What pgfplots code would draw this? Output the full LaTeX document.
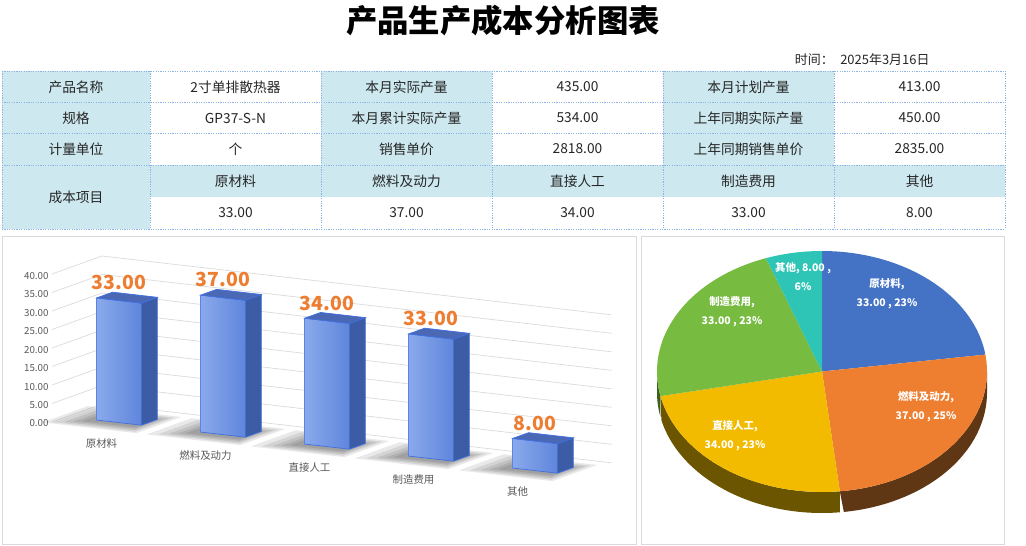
\documentclass[border=0pt]{standalone}
\usepackage{pgfplots}
\pgfplotsset{compat=1.18}
\usepackage{fontspec}
\setmainfont{Noto Sans CJK SC}
\pgfplotsset{/pgf/number format/assume math mode=true}
\definecolor{cellblue}{HTML}{CDE8EF}
\definecolor{gridblue}{HTML}{8DB4E2}
\definecolor{txt}{HTML}{262626}
\definecolor{labelgray}{HTML}{595959}
\definecolor{panelgray}{HTML}{D9D9D9}
\definecolor{barfront}{HTML}{5F86DC}
\definecolor{barfrontL}{HTML}{8AA9EC}
\definecolor{barside}{HTML}{3D5CA6}
\definecolor{bartop}{HTML}{4B68B4}
\definecolor{baredge}{HTML}{3F6FE0}
\definecolor{lblorange}{HTML}{ED7D31}
\definecolor{pblue}{HTML}{4472C4}
\definecolor{porange}{HTML}{EE7F30}
\definecolor{pyellow}{HTML}{F2BB00}
\definecolor{pgreen}{HTML}{77BB41}
\definecolor{pteal}{HTML}{2EC4B6}
\definecolor{sorange}{HTML}{5F3714}
\definecolor{syellow}{HTML}{6B5500}
\definecolor{sgreen}{HTML}{3C5E20}

% one 3D bar: #1 category position, #2 value
\newcommand\costbar[2]{%
 \pgfmathsetmacro\xl{#1-0.215}%
 \pgfmathsetmacro\xr{#1+0.215}%
 \edef\next{%
  \noexpand\addplot3[draw=baredge, line width=0.7bp, left color=barfrontL, right color=barfront] coordinates {(\xl,0.3,0) (\xr,0.3,0) (\xr,0.3,#2) (\xl,0.3,#2)} -- cycle;
  \noexpand\addplot3[draw=baredge, line width=0.7bp, fill=barside] coordinates {(\xr,0.3,0) (\xr,0.62,0) (\xr,0.62,#2) (\xr,0.3,#2)} -- cycle;
  \noexpand\addplot3[draw=baredge, line width=0.7bp, fill=bartop] coordinates {(\xl,0.3,#2) (\xr,0.3,#2) (\xr,0.62,#2) (\xl,0.62,#2)} -- cycle;
 }\next}
% soft shadow on the floor under a bar: nested translucent layers
\newcommand\shadowlayer[5]{%
 \pgfmathsetmacro\sa{#1-#2}\pgfmathsetmacro\sb{#1+#3}%
 \edef\next{%
  \noexpand\addplot3[fill=black, opacity=0.085, draw=none] coordinates {(\sa,#4,0) (\sb,#4,0) (\sb,#5,0) (\sa,#5,0)} -- cycle;
 }\next}
\newcommand\barshadow[1]{%
 \shadowlayer{#1}{0.56}{0.34}{-0.06}{0.84}%
 \shadowlayer{#1}{0.48}{0.30}{0.00}{0.78}%
 \shadowlayer{#1}{0.41}{0.27}{0.06}{0.72}%
 \shadowlayer{#1}{0.35}{0.24}{0.12}{0.66}%
 \shadowlayer{#1}{0.30}{0.22}{0.18}{0.62}%
}

\begin{document}
\begin{tikzpicture}
\path[use as bounding box, fill=white] (0,0) rectangle (1026bp,-546bp);

\begin{scope}[x=1bp, y=-1bp]
 % title and date
 \node[font=\bfseries\fontsize{31.5}{32}\selectfont, text=black] at (503,21) {产品生产成本分析图表};
 \node[anchor=east, font=\fontsize{13}{13}\selectfont, text=txt] at (933,60) {时间：\hspace{0.5em}2025年3月16日};
 % shaded cells
 \fill[cellblue] (2,71) rectangle (150,229);
 \fill[cellblue] (321,71) rectangle (492,165);
 \fill[cellblue] (663,71) rectangle (834,165);
 \fill[cellblue] (150,165) rectangle (1005,197);
 % dotted grid
 \begin{scope}[draw=gridblue, line width=0.6bp, dash pattern=on 1.2bp off 1.2bp]
  \foreach \yy in {71,102,133,165,229} \draw (2,\yy) -- (1005,\yy);
  \foreach \xx in {2,150,321,492,663,834,1005} \draw (\xx,71) -- (\xx,229);
 \end{scope}
 % cell texts
 \begin{scope}[font=\fontsize{13.8}{14}\selectfont, text=txt]
  \node at (76,87) {产品名称};
  \node at (235.5,87) {2寸单排散热器};
  \node at (406.5,87) {本月实际产量};
  \node at (577.5,87) {435.00};
  \node at (748.5,87) {本月计划产量};
  \node at (919.5,87) {413.00};
  \node at (76,118) {规格};
  \node at (235.5,118) {GP37-S-N};
  \node at (406.5,118) {本月累计实际产量};
  \node at (577.5,118) {534.00};
  \node at (748.5,118) {上年同期实际产量};
  \node at (919.5,118) {450.00};
  \node at (76,149) {计量单位};
  \node at (235.5,149) {个};
  \node at (406.5,149) {销售单价};
  \node at (577.5,149) {2818.00};
  \node at (748.5,149) {上年同期销售单价};
  \node at (919.5,149) {2835.00};
  \node at (76,197) {成本项目};
  \node at (235.5,181) {原材料};
  \node at (406.5,181) {燃料及动力};
  \node at (577.5,181) {直接人工};
  \node at (748.5,181) {制造费用};
  \node at (919.5,181) {其他};
  \node at (235.5,213) {33.00};
  \node at (406.5,213) {37.00};
  \node at (577.5,213) {34.00};
  \node at (748.5,213) {33.00};
  \node at (919.5,213) {8.00};
 \end{scope}
 % panels
 \draw[panelgray, line width=1bp] (2.5,236.5) rectangle (636.5,544.5);
 \draw[panelgray, line width=1bp] (641.5,236.5) rectangle (1004.5,544.5);
\end{scope}

% ---------- 3D bar chart ----------
\begin{axis}[
  anchor=origin, at={(104bp,-428bp)},
  x={(104bp,-12bp)}, y={(50bp,18bp)}, z={(0bp,3.7bp)},
  xmin=-0.5, xmax=4.4, ymin=0, ymax=1, zmin=0, zmax=40,
  xtick=\empty, ytick=\empty, ztick={0,5,...,40},
  scaled z ticks=false,
  zticklabel style={font=\fontsize{9.8}{10}\selectfont, text=labelgray,
     /pgf/number format/fixed, /pgf/number format/fixed zerofill,
     /pgf/number format/precision=2},
  zmajorgrids, major grid style={draw=black!14, line width=0.7bp},
  axis line style={draw=none}, tick style={draw=none},
  clip=false,
]
 \barshadow{0}\barshadow{1}\barshadow{2}\barshadow{3}\barshadow{4}
 \costbar{0}{33}
 \costbar{1}{37}
 \costbar{2}{34}
 \costbar{3}{33}
 \costbar{4}{8}
 \addplot3[mark=none, draw=none,
   point meta=z,
   nodes near coords={\pgfmathprintnumber[fixed, fixed zerofill, precision=2]{\pgfplotspointmeta}},
   nodes near coords style={anchor=south, yshift=7bp, text=lblorange,
     font=\bfseries\fontsize{19.5}{20}\selectfont}]
   coordinates {(0,0.3,33) (1,0.3,37) (2,0.3,34) (3,0.3,33) (4,0.3,8)};
 \addplot3[mark=none, draw=none,
   point meta=explicit symbolic, nodes near coords,
   nodes near coords style={anchor=north, yshift=-6bp, text=labelgray,
     font=\fontsize{10.5}{10.5}\selectfont}]
   table[meta=lab] {
x y z lab
0 -0.05 0 原材料
1 -0.05 0 燃料及动力
2 -0.05 0 直接人工
3 -0.05 0 制造费用
4 -0.05 0 其他
};
\end{axis}

% ---------- 3D pie ----------
\pgfmathsetmacro\tot{33+37+34+33+8}
\pgfmathsetmacro\aA{360*33/\tot}
\pgfmathsetmacro\aB{\aA+360*37/\tot}
\pgfmathsetmacro\aC{\aB+360*34/\tot}
\pgfmathsetmacro\aD{\aC+360*33/\tot}
\begin{axis}[
  at={(641bp,-236bp)}, anchor=north west, scale only axis,
  width=364bp, height=310bp,
  xmin=641, xmax=1005, ymin=236, ymax=546, y dir=reverse,
  hide axis, clip=false,
]
 % side band (visible lower half): upper arc forward, lower arc back
 \addplot[fill=sorange, draw=none, domain=0:2, samples=121]
   ({822+165*sin(90+(\aB-90)*min(x,2-x))},{371.5-120.5*cos(90+(\aB-90)*min(x,2-x))+21*(x>1)}) -- cycle;
 \addplot[fill=syellow, draw=none, domain=0:2, samples=121]
   ({822+165*sin(\aB+(\aC-\aB)*min(x,2-x))},{371.5-120.5*cos(\aB+(\aC-\aB)*min(x,2-x))+21*(x>1)}) -- cycle;
 \addplot[fill=sgreen, draw=none, domain=0:2, samples=41]
   ({822+165*sin(\aC+(270-\aC)*min(x,2-x))},{371.5-120.5*cos(\aC+(270-\aC)*min(x,2-x))+21*(x>1)}) -- cycle;
 % top wedges
 \addplot[fill=pblue, draw=none, domain=0:\aA, samples=50] ({822+165*sin(x)},{371.5-120.5*cos(x)}) -- (822,371.5) -- cycle;
 \addplot[fill=porange, draw=none, domain=\aA:\aB, samples=50] ({822+165*sin(x)},{371.5-120.5*cos(x)}) -- (822,371.5) -- cycle;
 \addplot[fill=pyellow, draw=none, domain=\aB:\aC, samples=50] ({822+165*sin(x)},{371.5-120.5*cos(x)}) -- (822,371.5) -- cycle;
 \addplot[fill=pgreen, draw=none, domain=\aC:\aD, samples=50] ({822+165*sin(x)},{371.5-120.5*cos(x)}) -- (822,371.5) -- cycle;
 \addplot[fill=pteal, draw=none, domain=\aD:360, samples=20] ({822+165*sin(x)},{371.5-120.5*cos(x)}) -- (822,371.5) -- cycle;
 % labels
 \begin{scope}[every node/.style={text=white, align=center, font=\bfseries\fontsize{10.5}{19}\selectfont}]
  \node at (887,294) {原材料,\\33.00 , 23\%};
  \node at (926,407) {燃料及动力,\\37.00 , 25\%};
  \node at (735,436) {直接人工,\\34.00 , 23\%};
  \node at (732,312) {制造费用,\\33.00 , 23\%};
  \node at (803,277) {其他, 8.00 ,\\6\%};
 \end{scope}
\end{axis}
\end{tikzpicture}
\end{document}
